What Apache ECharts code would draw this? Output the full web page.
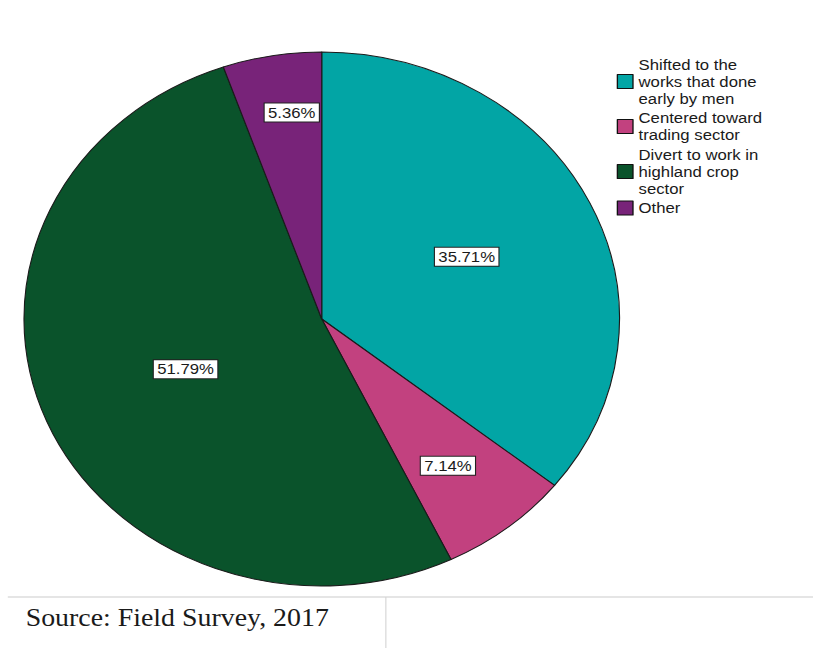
<!DOCTYPE html>
<html>
<head>
<meta charset="utf-8">
<script src="https://cdn.jsdelivr.net/npm/echarts@6/dist/echarts.min.js"></script>
<style>
  html, body { margin: 0; padding: 0; background: #ffffff; overflow: hidden; }
  #main { width: 729px; height: 648px; transform: scaleX(1.1152); transform-origin: 0 0; }
</style>
</head>
<body>
<div id="main"></div>
<script>
// ---- data ----
const categories = [
  'Shifted to the\nworks that done\nearly by men',
  'Centered toward\ntrading sector',
  'Divert to work in\nhighland crop\nsector',
  'Other'
];
const percentages = [35.71, 7.14, 51.79, 5.36];
const sourceNote = 'Source: Field Survey, 2017';

// ---- styling ----
const sliceColors = ['#02a5a5', '#c2417f', '#0a532b', '#782379'];
const labelNudges = [[7, -3], [28, 40], [4, -2], [-4, -72]];

const chart = echarts.init(document.getElementById('main'), null, { renderer: 'svg' });

const pieData = categories.map((name, i) => ({
  name: name,
  value: percentages[i],
  itemStyle: { color: sliceColors[i] },
  label: { offset: labelNudges[i] }
}));

chart.setOption({
  backgroundColor: '#ffffff',
  animation: false,
  legend: {
    orient: 'vertical',
    left: 553,
    top: 56,
    padding: 0,
    itemGap: 2.5,
    itemWidth: 14,
    itemHeight: 14,
    itemTextGap: 6,
    itemStyle: { borderColor: '#111', borderWidth: 1.2 },
    textStyle: { fontFamily: 'Liberation Sans, Arial, sans-serif', fontSize: 15, lineHeight: 17, color: '#1a1a1a' },
    data: categories,
    icon: 'rect',
    selectedMode: false
  },
  series: [{
    type: 'pie',
    center: [288.5, 319],
    radius: [0, 267],
    startAngle: 90,
    clockwise: true,
    avoidLabelOverlap: false,
    itemStyle: { borderColor: '#1a1a1a', borderWidth: 1 },
    label: {
      show: true,
      position: 'inside',
      formatter: p => p.value.toFixed(2) + '%',
      fontFamily: 'Liberation Sans, Arial, sans-serif',
      fontSize: 15,
      color: '#1a1a1a',
      backgroundColor: '#ffffff',
      borderColor: '#222',
      borderWidth: 1,
      padding: [2, 3, 1, 3]
    },
    labelLine: { show: false },
    emphasis: { disabled: true },
    data: pieData
  }],
  graphic: [
    { type: 'line', shape: { x1: 7, y1: 597, x2: 729, y2: 597 }, style: { stroke: '#dcdcdc', lineWidth: 1.5 } },
    { type: 'line', shape: { x1: 346, y1: 597, x2: 346, y2: 648 }, style: { stroke: '#d4d4d4', lineWidth: 1 } },
    { type: 'text', x: 23, y: 618, style: { text: sourceNote, font: '25px "Liberation Serif", "Times New Roman", serif', fill: '#1a1a1a', textVerticalAlign: 'middle' } }
  ]
});
</script>
</body>
</html>
